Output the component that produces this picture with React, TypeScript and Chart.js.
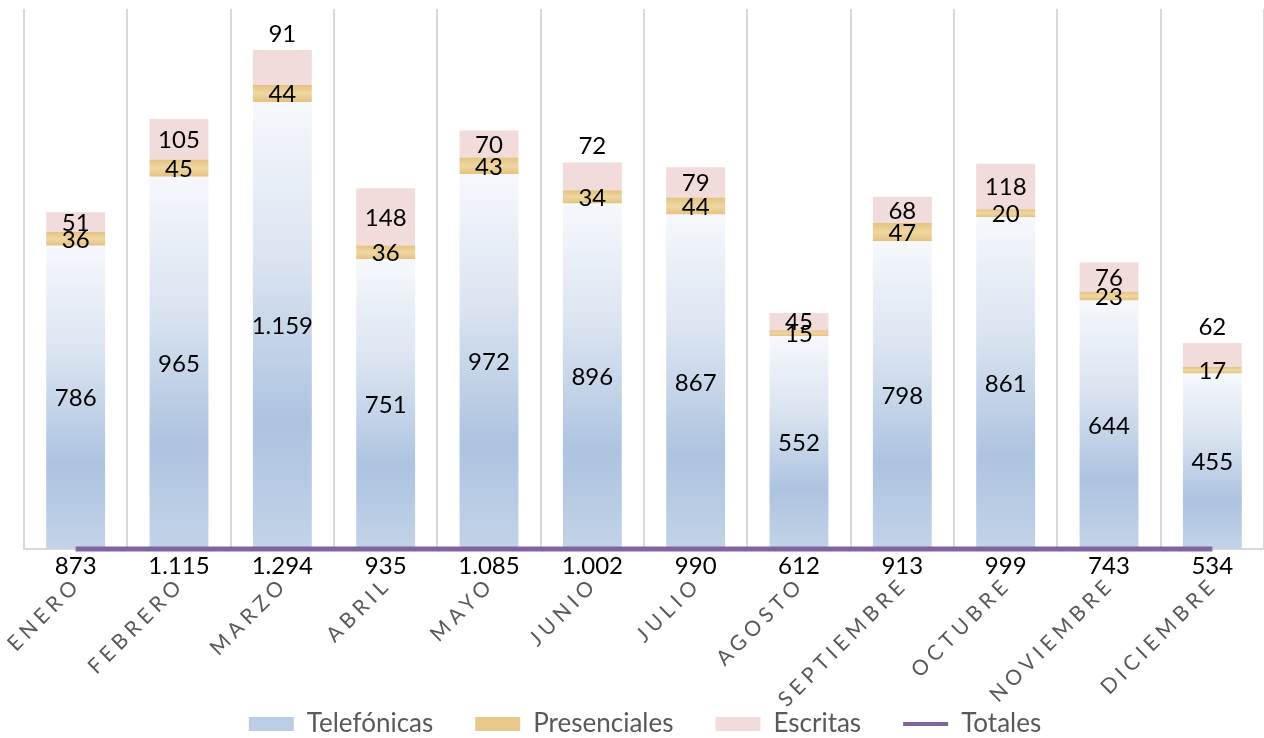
import React, { useEffect, useRef } from 'react';
import { Chart, registerables } from 'chart.js';

Chart.register(...registerables);

const months = ['ENERO', 'FEBRERO', 'MARZO', 'ABRIL', 'MAYO', 'JUNIO', 'JULIO', 'AGOSTO', 'SEPTIEMBRE', 'OCTUBRE', 'NOVIEMBRE', 'DICIEMBRE'];
const telefonicas = [786, 965, 1159, 751, 972, 896, 867, 552, 798, 861, 644, 455];
const presenciales = [36, 45, 44, 36, 43, 34, 44, 15, 47, 20, 23, 17];
const escritas = [51, 105, 91, 148, 70, 72, 79, 45, 68, 118, 76, 62];
const totales = [873, 1115, 1294, 935, 1085, 1002, 990, 612, 913, 999, 743, 534];
const seriesNames = ['Telefónicas', 'Presenciales', 'Escritas', 'Totales'];
const escritasLabelAbove = ['MARZO', 'JUNIO', 'DICIEMBRE'];

const FONT = 'Lato';
const VALUE_FONT_SIZE = 24;

function fmt(n: number): string {
  return String(Math.round(n)).replace(/\B(?=(\d{3})+(?!\d))/g, '.');
}

const stacks = [telefonicas, presenciales, escritas];

function segmentGradient(context: any, stops: [number, string][], fallback: string) {
  const chart = context.chart;
  const area = chart.chartArea;
  if (!area || context.type !== 'data') return fallback;
  const yScale = chart.scales.y;
  if (!yScale) return fallback;
  const i = context.dataIndex;
  let start = 0;
  for (let d = 0; d < context.datasetIndex; d++) start += stacks[d][i];
  const end = start + stacks[context.datasetIndex][i];
  const top = yScale.getPixelForValue(end);
  const bottom = yScale.getPixelForValue(start);
  if (!isFinite(top) || !isFinite(bottom) || top === bottom) return fallback;
  const g = chart.ctx.createLinearGradient(0, top, 0, bottom);
  stops.forEach(([o, c]) => g.addColorStop(o, c));
  return g;
}

const valueLabels = {
  id: 'valueLabels',
  afterLayout(chart: any) {
    // let the rotated month labels run past the axis box (as in the original) instead of being clipped
    const x = chart.scales.x;
    if (x) x.bottom = chart.height;
  },
  afterDatasetsDraw(chart: any) {
    const ctx = chart.ctx;
    ctx.save();
    ctx.letterSpacing = '0px';
    ctx.font = `${VALUE_FONT_SIZE}px ${FONT}`;
    ctx.fillStyle = '#000000';
    ctx.textAlign = 'center';
    ctx.textBaseline = 'middle';
    [0, 1, 2].forEach((di) => {
      const meta = chart.getDatasetMeta(di);
      meta.data.forEach((el: any, i: number) => {
        const v = stacks[di][i];
        let y = (el.y + el.base) / 2;
        if (di === 2 && escritasLabelAbove.includes(months[i])) y = el.y - 17;
        ctx.fillText(fmt(v), el.x, y + 1);
      });
    });
    const lm = chart.getDatasetMeta(3);
    lm.data.forEach((pt: any, i: number) => {
      ctx.fillText(fmt(totales[i]), pt.x, pt.y + 17);
    });
    ctx.restore();
    ctx.letterSpacing = '4.8px';
  },
  afterDraw(chart: any) {
    chart.ctx.letterSpacing = '0px';
  },
};

export default function App() {
  const ref = useRef<HTMLCanvasElement | null>(null);

  useEffect(() => {
    document.body.style.margin = '0';
    const canvas = ref.current;
    if (!canvas) return;
    Chart.defaults.font.family = FONT;

    const chart = new Chart(canvas, {
      type: 'bar',
      data: {
        labels: months,
        datasets: [
          {
            label: seriesNames[0],
            data: telefonicas,
            backgroundColor: (c: any) =>
              segmentGradient(c, [[0, '#f6f8fc'], [0.35, '#dbe4f1'], [0.72, '#adc3e0'], [1, '#c3d3e8']], '#bccde6'),
            borderWidth: 0,
            barPercentage: 0.57,
            categoryPercentage: 1,
            stack: 's',
          },
          {
            label: seriesNames[1],
            data: presenciales,
            backgroundColor: (c: any) =>
              segmentGradient(c, [[0, '#e3c27f'], [0.5, '#efd7a2'], [1, '#e3c27f']], '#e8c98c'),
            borderWidth: 0,
            barPercentage: 0.57,
            categoryPercentage: 1,
            stack: 's',
          },
          {
            label: seriesNames[2],
            data: escritas,
            backgroundColor: '#f2dcdb',
            borderWidth: 0,
            barPercentage: 0.57,
            categoryPercentage: 1,
            stack: 's',
          },
          {
            type: 'line',
            label: seriesNames[3],
            data: totales,
            yAxisID: 'y2',
            borderColor: '#8064a2',
            backgroundColor: '#8064a2',
            borderWidth: 5,
            pointRadius: 0,
            fill: false,
            clip: false,
            order: -1,
          } as any,
        ],
      },
      options: {
        animation: false,
        responsive: false,
        layout: { padding: { top: 9, left: 24, right: -2, bottom: -9 } },
        plugins: {
          tooltip: { enabled: false },
          legend: {
            position: 'bottom',
            labels: {
              font: { family: FONT, size: 26 },
              color: '#595959',
              usePointStyle: true,
              pointStyleWidth: 45,
              boxWidth: 45,
              boxHeight: 14,
              padding: 42,
              generateLabels: () => [
                { text: seriesNames[0], fillStyle: '#bccde6', strokeStyle: 'rgba(0,0,0,0)', lineWidth: 0, pointStyle: 'rect', datasetIndex: 0, hidden: false, fontColor: '#595959' },
                { text: seriesNames[1], fillStyle: '#e8c98c', strokeStyle: 'rgba(0,0,0,0)', lineWidth: 0, pointStyle: 'rect', datasetIndex: 1, hidden: false, fontColor: '#595959' },
                { text: seriesNames[2], fillStyle: '#f2dcdb', strokeStyle: 'rgba(0,0,0,0)', lineWidth: 0, pointStyle: 'rect', datasetIndex: 2, hidden: false, fontColor: '#595959' },
                { text: seriesNames[3], fillStyle: '#8064a2', strokeStyle: '#8064a2', lineWidth: 4, pointStyle: 'line', datasetIndex: 3, hidden: false, fontColor: '#595959' },
              ] as any,
            },
          },
        },
        scales: {
          x: {
            stacked: true,
            grid: { color: '#d9d9d9', lineWidth: 2, drawTicks: false, offset: true },
            border: { color: '#d9d9d9', width: 2 },
            ticks: {
              z: 1,
              color: '#595959',
              font: { family: FONT, size: 21 },
              minRotation: 45,
              maxRotation: 45,
              autoSkip: false,
              padding: 23,
              labelOffset: 2,
            },
            afterFit: (s: any) => {
              s.height = 120;
            },
          },
          y: {
            stacked: true,
            display: false,
            min: 0,
            max: 1400,
          },
          y2: {
            display: false,
            min: 0,
            max: 1e9,
          },
        },
      },
      plugins: [valueLabels],
    });

    return () => chart.destroy();
  }, []);

  return (
    <div style={{ width: 1264, height: 738 }}>
      <canvas ref={ref} width={1264} height={738} />
    </div>
  );
}
